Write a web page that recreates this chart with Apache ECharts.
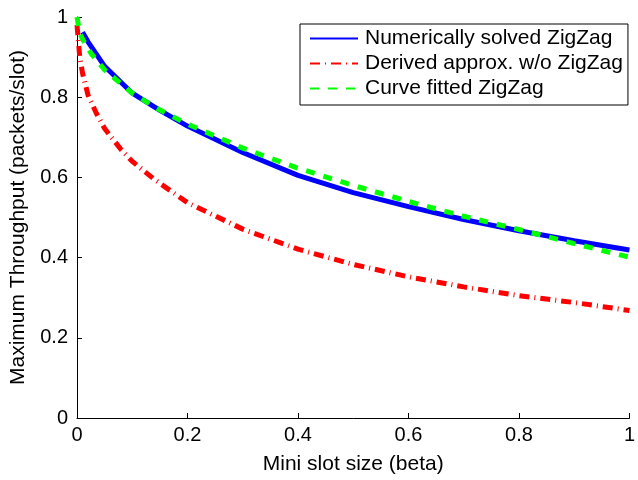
<!DOCTYPE html>
<html>
<head>
<meta charset="utf-8">
<script src="https://cdn.jsdelivr.net/npm/echarts@6/dist/echarts.min.js"></script>
<style>
html,body{margin:0;padding:0;background:#fff;overflow:hidden;}
#chart{width:638px;height:480px;}
</style>
</head>
<body>
<div id="chart"></div>
<script>
var numX = [0.01, 0.02, 0.05, 0.1, 0.15, 0.2, 0.3, 0.4, 0.5, 0.6, 0.7, 0.8, 0.9, 1.0];
var numY = [0.962, 0.938, 0.877, 0.81, 0.767, 0.728, 0.662, 0.605, 0.562, 0.527, 0.495, 0.467, 0.442, 0.419];

var derX = [0, 0.005, 0.01, 0.02, 0.035, 0.05, 0.08, 0.1, 0.14, 0.2, 0.3, 0.4, 0.5, 0.6, 0.7, 0.8, 0.9, 1.0];
var derY = [0.98, 0.9, 0.86, 0.805, 0.76, 0.722, 0.669, 0.64, 0.595, 0.537, 0.471, 0.421, 0.383, 0.352, 0.327, 0.305, 0.288, 0.268];

var fitX = [0, 0.005, 0.01, 0.025, 0.05, 0.1, 0.15, 0.2, 0.3, 0.4, 0.5, 0.6, 0.7, 0.8, 0.9, 1.0];
var fitY = [1.0, 0.96, 0.945, 0.91, 0.868, 0.81, 0.768, 0.733, 0.673, 0.623, 0.58, 0.54, 0.503, 0.47, 0.435, 0.401];

var seriesNames = ['Numerically solved ZigZag', 'Derived approx. w/o ZigZag', 'Curve fitted ZigZag'];
var xTicks = [0, 0.2, 0.4, 0.6, 0.8, 1];
var yTicks = [0, 0.2, 0.4, 0.6, 0.8, 1];

function pairs(xs, ys) { return xs.map(function (x, i) { return [x, ys[i]]; }); }

var font = 'Liberation Sans, Arial, Helvetica, sans-serif';
var chart = echarts.init(document.getElementById('chart'), null, {renderer: 'canvas', width: 638, height: 480});
chart.setOption({
  animation: false,
  backgroundColor: '#ffffff',
  grid: {left: 75, right: 3, top: 17, bottom: 61, containLabel: false},
  xAxis: {
    type: 'value', min: 0, max: 1, interval: 0.2,
    name: 'Mini slot size (beta)', nameLocation: 'middle', nameGap: 36,
    nameTextStyle: {fontFamily: font, fontSize: 21, color: '#000'},
    axisLine: {lineStyle: {color: '#000', width: 1}},
    axisTick: {inside: true, length: 5, lineStyle: {color: '#000'}},
    axisLabel: {fontFamily: font, fontSize: 20, color: '#000', margin: 7,
      formatter: function (v) { return String(+v.toFixed(1)); }},
    splitLine: {show: false}
  },
  yAxis: {
    type: 'value', min: 0, max: 1, interval: 0.2,
    name: 'Maximum Throughput (packets/slot)', nameLocation: 'middle', nameGap: 48,
    nameTextStyle: {fontFamily: font, fontSize: 21, color: '#000'},
    axisLine: {show: true, lineStyle: {color: '#000', width: 1}},
    axisTick: {show: true, inside: true, length: 5, lineStyle: {color: '#000'}},
    axisLabel: {fontFamily: font, fontSize: 20, color: '#000', margin: 9,
      formatter: function (v) { return String(+v.toFixed(1)); }},
    splitLine: {show: false}
  },
  legend: {
    left: 300, top: 24, orient: 'vertical',
    padding: [4, 5, 6, 9],
    itemGap: 4, itemWidth: 48, itemHeight: 14,
    borderColor: '#000', borderWidth: 1, backgroundColor: '#fff',
    itemStyle: {opacity: 0},
    textStyle: {fontFamily: font, fontSize: 21, lineHeight: 21, color: '#000', padding: [0, 0, 0, 2]},
    data: seriesNames.map(function (n) { return {name: n}; })
  },
  series: [
    {
      name: seriesNames[0], type: 'line', data: pairs(numX, numY),
      showSymbol: false, symbol: 'none', smooth: false,
      lineStyle: {color: '#0000ff', width: 5, type: 'solid'},
      itemStyle: {color: '#0000ff'}
    },
    {
      name: seriesNames[1], type: 'line', data: pairs(derX, derY),
      showSymbol: false, symbol: 'none', smooth: false,
      lineStyle: {color: '#ff0000', width: 5, type: [10, 5, 1, 5], cap: 'butt'},
      itemStyle: {color: '#ff0000'}
    },
    {
      name: seriesNames[2], type: 'line', data: pairs(fitX, fitY),
      showSymbol: false, symbol: 'none', smooth: false,
      lineStyle: {color: '#00ff00', width: 5, type: [9, 9], cap: 'butt'},
      itemStyle: {color: '#00ff00'}
    }
  ]
});
</script>
</body>
</html>
